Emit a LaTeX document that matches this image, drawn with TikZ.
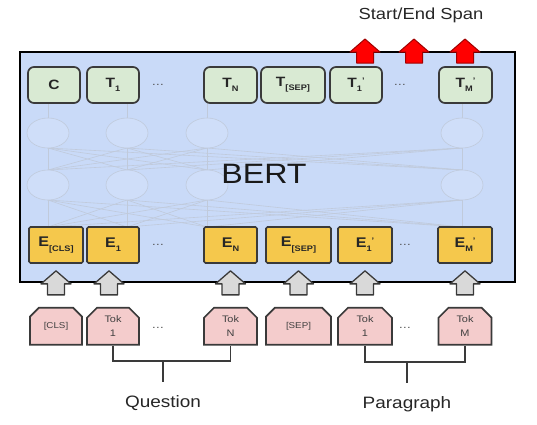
\documentclass[tikz,border=0pt]{standalone}
\usepackage{fontspec}
\setmainfont{Liberation Sans}[FakeStretch=1.15]
\usepackage{tikz}
\usetikzlibrary{positioning,calc,shapes.geometric,shapes.misc}
\definecolor{bertblue}{HTML}{C9DAF8}
\definecolor{outgreen}{HTML}{D9EAD3}
\definecolor{embyellow}{HTML}{F5C84C}
\definecolor{tokpink}{HTML}{F4CCCC}
\definecolor{arrowgray}{HTML}{D9D9D9}
\definecolor{boxedge}{HTML}{3A3A3A}
\definecolor{netline}{HTML}{C0CADB}
\definecolor{spanred}{HTML}{FF0000}
\definecolor{spanedge}{HTML}{A00000}
\newcommand{\lowsub}[1]{\raisebox{-0.3em}{\fontsize{8}{8}\selectfont #1}}
\newcommand{\upprime}{\raisebox{0.3em}{\fontsize{8}{8}\selectfont '}}
\tikzset{bracket/.style = {draw=boxedge, line width=1.3pt}}

\begin{document}
\begin{tikzpicture}[x=1pt, y=-1pt,
          fat arrow/.pic={%
            \path[pic actions] (-8.5,0) -- (-8.5,-11) -- (-15,-11) -- (0,-24) -- (15,-11) -- (8.5,-11) -- (8.5,0) -- cycle;
          }
          ]
          \useasboundingbox (0,0) rectangle (537,424);
          % vertices
          \tikzstyle{bertbox} = [rectangle, draw=black, line width=2.6pt, fill=bertblue, minimum width=495pt, minimum height=230pt]
          \tikzstyle{netnode} = [ellipse, draw=netline, line width=0.6pt, fill=bertblue!88!white, minimum width=42pt, minimum height=30pt]
          \tikzstyle{netedge} = [draw=netline, line width=0.6pt]
          \tikzstyle{outbox} = [rectangle, draw=boxedge, line width=1.7pt, rounded corners=6pt, fill=outgreen, minimum width=52pt, minimum height=36pt, inner sep=0pt, text=black!85, font=\fontsize{13.5}{16}\selectfont\bfseries]
          \tikzstyle{embbox} = [rectangle, draw=boxedge, line width=1.7pt, rounded corners=1.5pt, fill=embyellow, minimum width=54pt, minimum height=36pt, inner sep=0pt, text=black!85, font=\fontsize{14}{16}\selectfont\bfseries]
          \tikzstyle{tokbox} = [chamfered rectangle, chamfered rectangle corners={north west,north east}, chamfered rectangle xsep=5pt, chamfered rectangle ysep=5pt, draw=boxedge, line width=1.7pt, fill=tokpink, minimum width=52pt, minimum height=37pt, inner sep=0pt, align=center, text=black!75, font=\fontsize{9.5}{14.5}\selectfont]
          \tikzstyle{dotsnode} = [inner sep=0pt, text=black!70, font=\fontsize{11}{12}\selectfont]
          \tikzstyle{caption} = [inner sep=0pt, text=black!85, font=\fontsize{16.5}{18}\selectfont]
          \tikzstyle{grayarrow} = [fill=arrowgray, draw=boxedge, line width=1.3pt, line join=round]
          \tikzstyle{redarrow} = [fill=spanred, draw=spanedge, line width=1pt, line join=round]

          \node[bertbox] (bert) at (267.5,167) {};

          % faint network behind the label
          \foreach \x [count=\i] in {48,127,207,462} {
            \coordinate (top\i) at (\x,103);
            \coordinate (bot\i) at (\x,227);
          }
          \foreach \x [count=\i] in {48,127,207,462} {
            \foreach \y [count=\j] in {48,127,207,462} {
              \draw[netedge] (\x,148) -- (\y,170);
              \draw[netedge] (bot\i) -- (\y,200);
            }
          }
          \foreach \x [count=\i] in {48,127,207,462} {
            \node[netnode] (up\i) at (\x,133) {};
            \node[netnode] (lo\i) at (\x,185) {};
            \draw[netedge] (top\i) -- (up\i.north);
          }
          \node[font=\fontsize{28}{30}\selectfont, text=black!90] (bertlabel) at (264,174) {BERT};

          \node[outbox] (tc) at (54,85) {C};
          \node[outbox] (t1) at (113,85) {T\lowsub{1}};
          \node[dotsnode] (tdots1) at (158,85) {\dots};
          \node[outbox, minimum width=53pt] (tn) at (230.5,85) {T\lowsub{N}};
          \node[outbox, minimum width=64pt] (tsep) at (293,85) {T\lowsub{[SEP]}};
          \node[outbox] (t1p) at (356,85) {T\lowsub{1}\upprime};
          \node[dotsnode] (tdots2) at (400,85) {\dots};
          \node[outbox, minimum width=53pt] (tmp) at (465.5,85) {T\lowsub{M}\upprime};

          \node[embbox] (ecls) at (56,245) {E\lowsub{[CLS]}};
          \node[embbox, minimum width=52pt] (e1) at (113,245) {E\lowsub{1}};
          \node[dotsnode] (edots1) at (158,245) {\dots};
          \node[embbox, minimum width=53pt] (en) at (230.5,245) {E\lowsub{N}};
          \node[embbox, minimum width=65pt] (esep) at (298.5,245) {E\lowsub{[SEP]}};
          \node[embbox] (e1p) at (365,245) {E\lowsub{1}\upprime};
          \node[dotsnode] (edots2) at (405,245) {\dots};
          \node[embbox] (emp) at (465,245) {E\lowsub{M}\upprime};

          \node[tokbox, font=\fontsize{8.5}{10}\selectfont, below=43pt of ecls] (tokcls) {[CLS]};
          \node[tokbox, below=43pt of e1] (tok1) {Tok\\1};
          \node[dotsnode] (tokdots1) at (158,328) {\dots};
          \node[tokbox, minimum width=53pt, below=43pt of en] (tokn) {Tok\\N};
          \node[tokbox, minimum width=65pt, font=\fontsize{8.5}{10}\selectfont, below=43pt of esep] (toksep) {[SEP]};
          \node[tokbox, minimum width=54pt, below=43pt of e1p] (tok1p) {Tok\\1};
          \node[dotsnode] (tokdots2) at (405,328) {\dots};
          \node[tokbox, minimum width=53pt, below=43pt of emp] (tokm) {Tok\\M};

          % input arrows
          \pic[grayarrow] (in1) at ($(tokcls.north)+(0,-12)$) {fat arrow};
          \pic[grayarrow] (in2) at ($(tok1.north)+(-4,-12)$) {fat arrow};
          \pic[grayarrow] (in3) at ($(tokn.north)+(0,-12)$) {fat arrow};
          \pic[grayarrow] (in4) at ($(toksep.north)+(0,-12)$) {fat arrow};
          \pic[grayarrow] (in5) at ($(tok1p.north)+(0,-12)$) {fat arrow};
          \pic[grayarrow] (in6) at ($(tokm.north)+(0,-12)$) {fat arrow};

          % output span
          \pic[redarrow] (span1) at (365,63) {fat arrow};
          \pic[redarrow] (span2) at (414,63) {fat arrow};
          \pic[redarrow] (span3) at (465,63) {fat arrow};
          \node[font=\fontsize{16}{18}\selectfont, text=black!85] (span) at (421,15) {Start/End Span};

          % groups
          \coordinate (qjoin) at (163,361);
          \coordinate (qstem) at (163,382);
          \draw[bracket] (tok1.south) |- (qjoin) -| (tokn.south);
          \draw[bracket] (qjoin) -- (qstem);
          \node[caption, below=13pt of qstem] (question) {Question};

          \coordinate (pjoin) at (407,362);
          \coordinate (pstem) at (407,383);
          \draw[bracket] (tok1p.south) |- (pjoin) -| (tokm.south);
          \draw[bracket] (pjoin) -- (pstem);
          \node[caption, below=13pt of pstem] (paragraph) {Paragraph};
        \end{tikzpicture}
\end{document}
